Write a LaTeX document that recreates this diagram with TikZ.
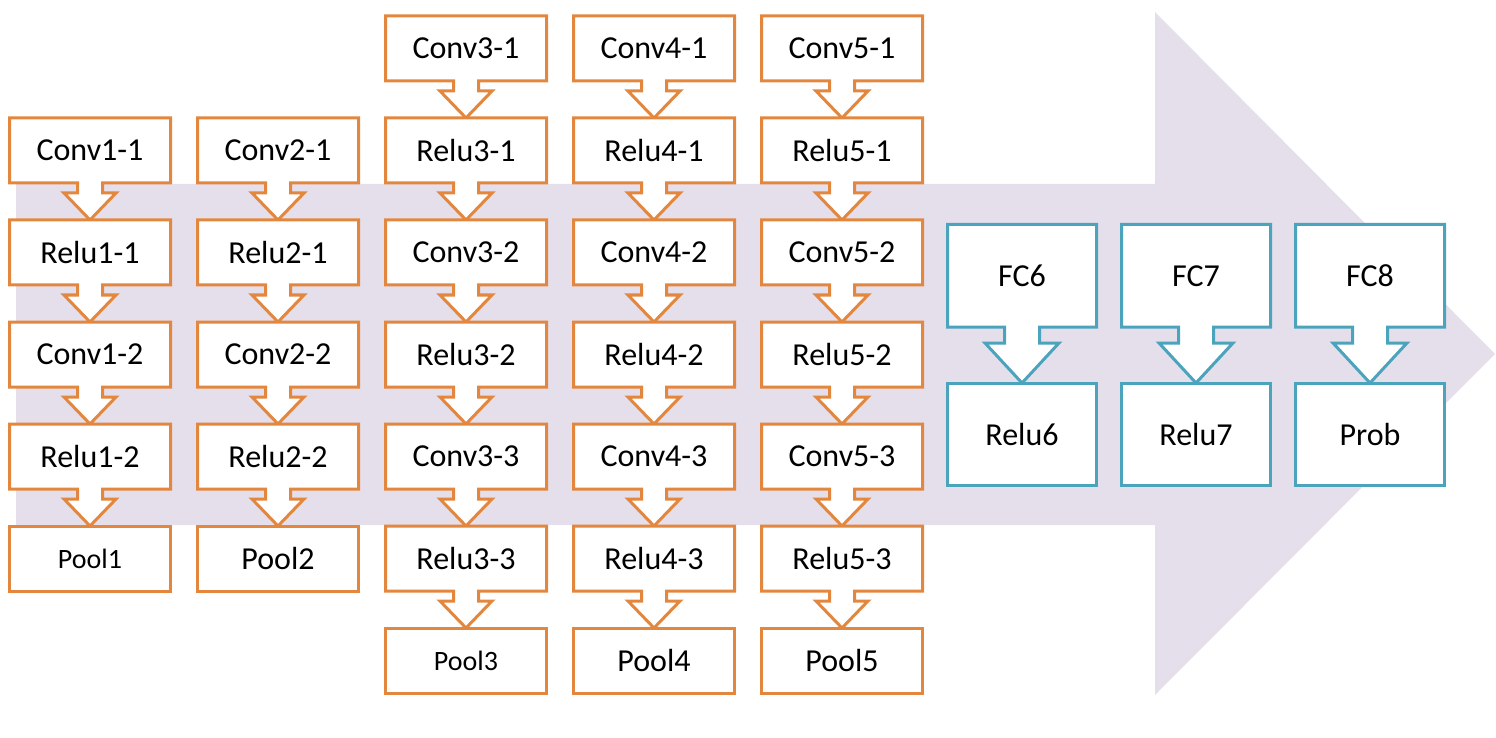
\documentclass[tikz,border=0pt]{standalone}
\usepackage{fontspec}
\setmainfont{Carlito}
\usetikzlibrary{calc}
\definecolor{boxorange}{RGB}{228,135,62}
\definecolor{boxteal}{RGB}{75,163,188}
\definecolor{bgpurple}{RGB}{229,223,236}
\pgfdeclarelayer{bglayer}
\pgfdeclarelayer{shapelayer}
\pgfsetlayers{bglayer,shapelayer,main}
% #1 style, #2 node, #3 target, #4 stem half width, #5 head half width, #6 stem length
\newcommand{\mycallout}[6]{%
  \begin{pgfonlayer}{shapelayer}
  \draw[#1] (#2.north west) -- (#2.north east) -- (#2.south east)
    -- ($(#2.south)+(#4,0)$) -- ($(#2.south)+(#4,#6)$) -- ($(#2.south)+(#5,#6)$)
    -- (#3.north)
    -- ($(#2.south)+(-#5,#6)$) -- ($(#2.south)+(-#4,#6)$) -- ($(#2.south)+(-#4,0)$)
    -- (#2.south west) -- cycle;
  \end{pgfonlayer}}
\begin{document}
\begin{tikzpicture}[x=0.5pt,y=-0.5pt,
  layer/.style={rectangle, minimum width=80.5pt, minimum height=32.5pt,
    inner sep=0pt, outer sep=0pt, font=\fontsize{16}{18}\selectfont},
  endlayer/.style={layer, draw=boxorange, line width=1.5pt, fill=white},
  fclayer/.style={rectangle, minimum width=74.5pt, minimum height=51.25pt,
    inner sep=0pt, outer sep=0pt, font=\fontsize{16}{18}\selectfont},
  endfc/.style={fclayer, draw=boxteal, line width=1.5pt, fill=white},
  orangeline/.style={draw=boxorange, line width=1.5pt, fill=white, line join=miter},
  tealline/.style={draw=boxteal, line width=1.5pt, fill=white, line join=miter}]
\useasboundingbox (0,0) rectangle (1496,738);
\begin{pgfonlayer}{bglayer}
\fill[bgpurple] (16,184) -- (1155,184) -- (1155,12) -- (1495,354)
  -- (1155,695) -- (1155,525) -- (16,525) -- cycle;
\end{pgfonlayer}
% blocks 1 and 2
\foreach \i/\x in {1/90,2/278}{
  \node[layer] (c\i a) at (\x,150.5) {Conv\i-1};
  \node[layer] (r\i a) at (\x,252.5) {Relu\i-1};
  \node[layer] (c\i b) at (\x,354.5) {Conv\i-2};
  \node[layer] (r\i b) at (\x,456.5) {Relu\i-2};
}
\node[endlayer, font=\fontsize{14}{16}\selectfont] (p1) at (90,558.5) {Pool1};
\node[endlayer] (p2) at (278,558.5) {Pool2};
\foreach \i in {1,2}{
  \mycallout{orangeline}{c\i a}{r\i a}{12.5}{26}{10}
  \mycallout{orangeline}{r\i a}{c\i b}{12.5}{26}{10}
  \mycallout{orangeline}{c\i b}{r\i b}{12.5}{26}{10}
  \mycallout{orangeline}{r\i b}{p\i}{12.5}{26}{10}
}
% blocks 3, 4, 5
\foreach \i/\x in {3/466,4/654,5/842}{
  \node[layer] (c\i a) at (\x,48.5) {Conv\i-1};
  \node[layer] (r\i a) at (\x,150.5) {Relu\i-1};
  \node[layer] (c\i b) at (\x,252.5) {Conv\i-2};
  \node[layer] (r\i b) at (\x,354.5) {Relu\i-2};
  \node[layer] (c\i c) at (\x,456.5) {Conv\i-3};
  \node[layer] (r\i c) at (\x,558.5) {Relu\i-3};
}
\node[endlayer, font=\fontsize{14}{16}\selectfont] (p3) at (466,660.5) {Pool3};
\node[endlayer] (p4) at (654,660.5) {Pool4};
\node[endlayer] (p5) at (842,660.5) {Pool5};
\foreach \i in {3,4,5}{
  \mycallout{orangeline}{c\i a}{r\i a}{12.5}{26}{10}
  \mycallout{orangeline}{r\i a}{c\i b}{12.5}{26}{10}
  \mycallout{orangeline}{c\i b}{r\i b}{12.5}{26}{10}
  \mycallout{orangeline}{r\i b}{c\i c}{12.5}{26}{10}
  \mycallout{orangeline}{c\i c}{r\i c}{12.5}{26}{10}
  \mycallout{orangeline}{r\i c}{p\i}{12.5}{26}{10}
}
% fully connected
\node[fclayer] (fc6) at (1022,275.75) {FC6};
\node[fclayer] (fc7) at (1196,275.75) {FC7};
\node[fclayer] (fc8) at (1370,275.75) {FC8};
\node[endfc] (relu6) at (1022,434.25) {Relu6};
\node[endfc] (relu7) at (1196,434.25) {Relu7};
\node[endfc] (prob) at (1370,434.25) {Prob};
\mycallout{tealline}{fc6}{relu6}{17.5}{37}{16}
\mycallout{tealline}{fc7}{relu7}{17.5}{37}{16}
\mycallout{tealline}{fc8}{prob}{17.5}{37}{16}
\end{tikzpicture}
\end{document}
